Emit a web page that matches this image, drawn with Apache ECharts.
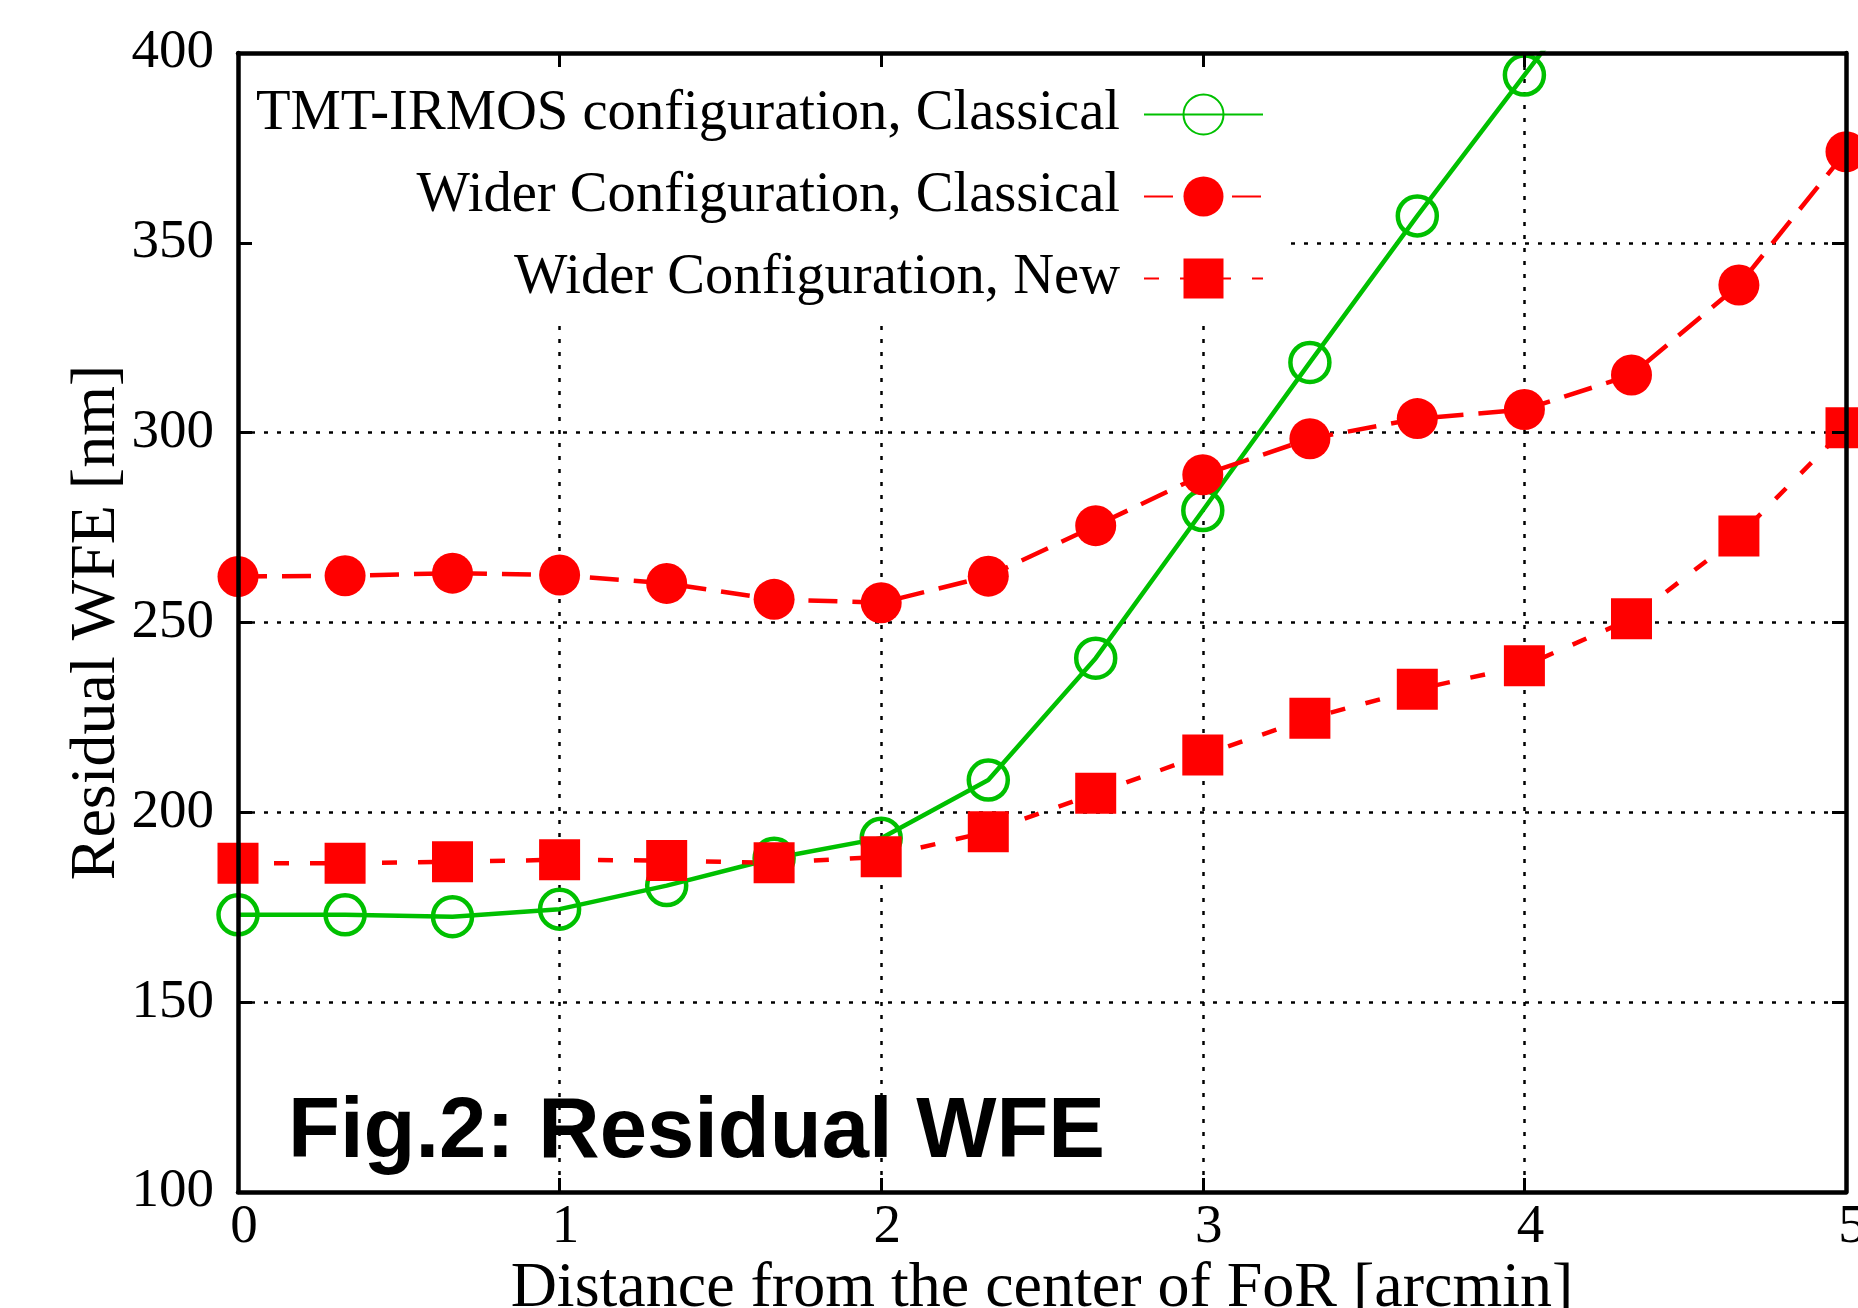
<!DOCTYPE html>
<html>
<head>
<meta charset="utf-8">
<title>Residual WFE</title>
<script src="https://cdn.jsdelivr.net/npm/echarts@6/dist/echarts.min.js"></script>
<style>
  html, body { margin: 0; padding: 0; background: #fff; }
  #chart { width: 1858px; height: 1308px; }
</style>
</head>
<body>
<div id="chart"></div>
<script>
// distance from the center of FoR [arcmin], sampled every 1/3 arcmin
const distance = [0, 0.333, 0.667, 1, 1.333, 1.667, 2, 2.333, 2.667, 3, 3.333, 3.667, 4, 4.333, 4.667, 5];

// residual WFE [nm]
const tmtClassical = [173.0, 173.0, 172.5, 174.5, 180.7, 187.9, 193.2, 208.5, 240.6, 279.5, 318.5, 357.1, 394.2, 431];
const widerClassical = [262.1, 262.3, 263.0, 262.5, 260.3, 256.1, 255.2, 262.2, 275.5, 288.9, 298.4, 303.7, 306.1, 315.2, 338.9, 374.0];
const widerNew = [186.6, 186.6, 187.0, 187.5, 187.3, 186.7, 188.3, 194.9, 205.0, 215.1, 224.8, 232.4, 238.6, 251.0, 272.8, 301.3];

const seriesNames = [
  "TMT-IRMOS configuration, Classical",
  "Wider Configuration, Classical",
  "Wider Configuration, New",
];

const xTicks = { min: 0, max: 5, interval: 1 };
const yTicks = { min: 100, max: 400, interval: 50 };

const GREEN = "#00c000";
const RED = "#ff0000";
const SERIF = "Liberation Serif";

function pairs(ys) {
  return ys.map((y, i) => [distance[i], y]);
}

const chart = echarts.init(document.getElementById("chart"));

const gridRect = { left: 238, right: 12, top: 53, bottom: 116, outerBoundsMode: "none" };

const borderAxisCommon = {
  z: 5,
  axisLine: { show: true, onZero: false, lineStyle: { color: "#000", width: 4.5 } },
  axisTick: { show: true, inside: true, length: 14, lineStyle: { color: "#000", width: 3 } },
  splitLine: { show: false },
};

const gridLineStyle = { color: "#000", width: 2.5, type: [4, 9] };

const options = {
  animation: false,
  backgroundColor: "#fff",
  textStyle: { fontFamily: SERIF, color: "#000" },
  grid: [gridRect, Object.assign({}, gridRect)],
  legend: {
    orient: "vertical",
    align: "right",
    right: 572,
    top: 53,
    padding: [33, 22, 18, 30],
    backgroundColor: "#fff",
    z: 1,
    selectedMode: false,
    itemWidth: 119,
    itemHeight: 50,
    itemGap: 25,
    textStyle: {
      fontFamily: SERIF,
      fontSize: 56.6,
      lineHeight: 50,
      color: "#000",
      padding: [0, 19, 0, 0],
    },
    data: seriesNames,
  },
  xAxis: [
    Object.assign({}, borderAxisCommon, {
      type: "value",
      gridIndex: 0,
      position: "bottom",
      min: xTicks.min,
      max: xTicks.max,
      interval: xTicks.interval,
      name: "Distance from the center of FoR [arcmin]",
      nameLocation: "middle",
      nameGap: 65,
      nameMoveOverlap: false,
      nameTextStyle: { fontFamily: SERIF, fontSize: 64, color: "#000" },
      axisLabel: {
        show: true,
        margin: 8,
        fontFamily: SERIF,
        fontSize: 55,
        color: "#000",
        padding: [0, 0, 0, 12],
      },
    }),
    Object.assign({}, borderAxisCommon, {
      type: "value",
      gridIndex: 0,
      position: "top",
      min: xTicks.min,
      max: xTicks.max,
      interval: xTicks.interval,
      axisLabel: { show: false },
    }),
    {
      type: "value",
      gridIndex: 1,
      min: xTicks.min,
      max: xTicks.max,
      interval: xTicks.interval,
      z: 0,
      axisLine: { show: false },
      axisTick: { show: false },
      axisLabel: { show: false },
      splitLine: { show: true, lineStyle: gridLineStyle },
    },
  ],
  yAxis: [
    Object.assign({}, borderAxisCommon, {
      type: "value",
      gridIndex: 0,
      position: "left",
      min: yTicks.min,
      max: yTicks.max,
      interval: yTicks.interval,
      name: "Residual WFE [nm]",
      nameLocation: "middle",
      nameGap: 109,
      nameMoveOverlap: false,
      nameTextStyle: { fontFamily: SERIF, fontSize: 64, color: "#000" },
      axisLabel: {
        show: true,
        margin: 24,
        fontFamily: SERIF,
        fontSize: 55,
        color: "#000",
      },
    }),
    Object.assign({}, borderAxisCommon, {
      type: "value",
      gridIndex: 0,
      position: "right",
      min: yTicks.min,
      max: yTicks.max,
      interval: yTicks.interval,
      axisLabel: { show: false },
    }),
    {
      type: "value",
      gridIndex: 1,
      min: yTicks.min,
      max: yTicks.max,
      interval: yTicks.interval,
      z: 0,
      axisLine: { show: false },
      axisTick: { show: false },
      axisLabel: { show: false },
      splitLine: { show: true, lineStyle: gridLineStyle },
    },
  ],
  graphic: [
    {
      type: "text",
      z: 0,
      x: 288,
      y: 1134,
      style: {
        text: "Fig.2: Residual WFE",
        fontFamily: "Liberation Sans",
        fontWeight: "bold",
        fontSize: 85,
        fill: "#000",
        verticalAlign: "middle",
      },
    },
  ],
  series: [
    {
      name: seriesNames[0],
      type: "line",
      xAxisIndex: 0,
      yAxisIndex: 0,
      symbol: "circle",
      symbolSize: 39,
      showAllSymbol: true,
      lineStyle: { color: GREEN, width: 4.5, type: "solid" },
      itemStyle: { color: "rgba(0,0,0,0)", borderColor: GREEN, borderWidth: 4.5 },
      emphasis: { disabled: true },
      data: pairs(tmtClassical),
    },
    {
      name: seriesNames[1],
      type: "line",
      xAxisIndex: 0,
      yAxisIndex: 0,
      symbol: "circle",
      symbolSize: 41,
      showAllSymbol: true,
      lineStyle: { color: RED, width: 4.5, type: [29, 15] },
      itemStyle: { color: RED },
      emphasis: { disabled: true },
      data: pairs(widerClassical),
    },
    {
      name: seriesNames[2],
      type: "line",
      xAxisIndex: 0,
      yAxisIndex: 0,
      symbol: "rect",
      symbolSize: 41,
      showAllSymbol: true,
      lineStyle: { color: RED, width: 4.5, type: [15, 21] },
      itemStyle: { color: RED },
      emphasis: { disabled: true },
      data: pairs(widerNew),
    },
  ],
};

chart.setOption(options);
</script>
</body>
</html>
